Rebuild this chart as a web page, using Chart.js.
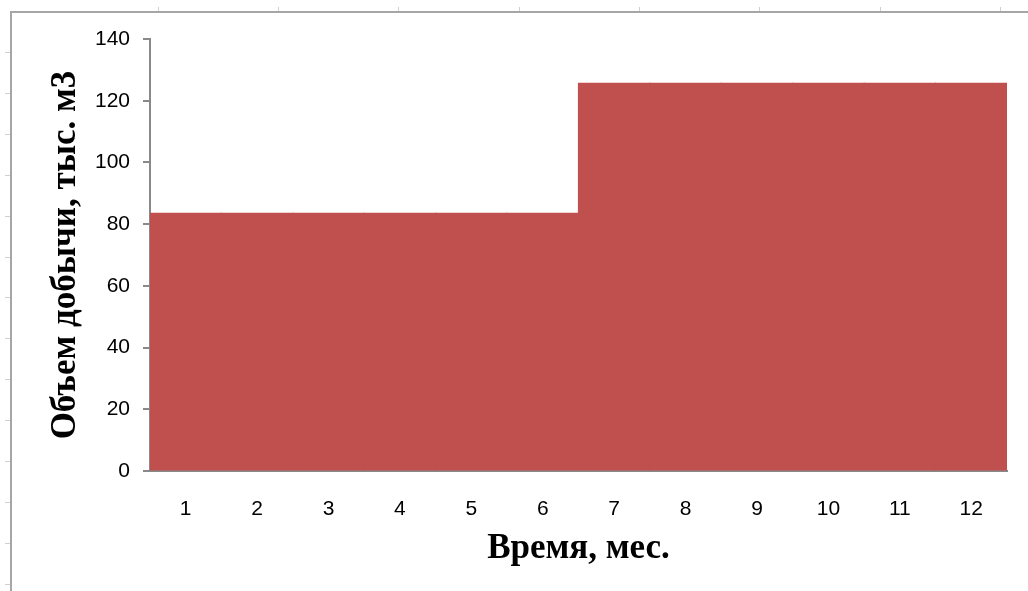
<!DOCTYPE html>
<html>
<head>
<meta charset="utf-8">
<script src="https://cdn.jsdelivr.net/npm/chart.js@4/dist/chart.umd.min.js"></script>
<style>
html,body{margin:0;padding:0;background:#fff;}
#wrap{position:relative;width:1028px;height:591px;}
</style>
</head>
<body>
<div id="wrap"><canvas id="c" width="1028" height="591"></canvas></div>
<script>
const months = ['1','2','3','4','5','6','7','8','9','10','11','12'];
const volume = [83.5,83.5,83.5,83.5,83.5,83.5,125.6,125.6,125.6,125.6,125.6,125.6];
const yTitle = 'Объем добычи, тыс. м3';
const xTitle = 'Время, мес.';
const yMin = 0, yMax = 140, yStep = 20;

const frame = {
  id: 'frame',
  beforeDraw(chart) {
    const ctx = chart.ctx;
    ctx.save();
    ctx.fillStyle = '#fff';
    ctx.fillRect(0, 0, chart.width, chart.height);
    ctx.strokeStyle = '#a6a6a6';
    ctx.lineWidth = 2;
    ctx.beginPath();
    ctx.moveTo(11, chart.height);
    ctx.lineTo(11, 12);
    ctx.lineTo(chart.width, 12);
    ctx.stroke();
    ctx.strokeStyle = '#d0d0d0';
    ctx.lineWidth = 1;
    ctx.beginPath();
    for (let x = 157.5; x < chart.width; x += 120.4) { ctx.moveTo(Math.round(x)+0.5, 7); ctx.lineTo(Math.round(x)+0.5, 11); }
    for (let y = 52; y < chart.height; y += 40.9) { ctx.moveTo(5, Math.round(y)+0.5); ctx.lineTo(10, Math.round(y)+0.5); }
    ctx.stroke();
    ctx.restore();
  }
};

new Chart(document.getElementById('c'), {
  type: 'bar',
  data: {
    labels: months,
    datasets: [{
      data: volume,
      backgroundColor: '#C0504D',
      borderWidth: 0,
      inflateAmount: 0.6,
      categoryPercentage: 1.0,
      barPercentage: 1.0
    }]
  },
  options: {
    responsive: false,
    animation: false,
    devicePixelRatio: 1,
    layout: { padding: { left: 0, top: 39, right: 21, bottom: 0 } },
    plugins: { legend: { display: false }, tooltip: { enabled: false } },
    scales: {
      x: {
        afterFit(s) { s.height = 120; },
        grid: { display: false, drawTicks: false },
        border: { display: true, color: '#898989', width: 2 },
        ticks: { color: '#000', padding: 26, font: { family: 'Liberation Sans', size: 21 } },
        title: { display: true, text: xTitle, color: '#000', padding: { top: 0, bottom: 21 },
                 font: { family: 'Liberation Serif', size: 35, weight: 'bold' } }
      },
      y: {
        min: yMin, max: yMax,
        afterFit(s) { s.width = 150; },
        grid: { drawOnChartArea: false, drawTicks: true, tickLength: 7, color: '#898989', lineWidth: 2 },
        border: { display: true, color: '#898989', width: 2 },
        ticks: { stepSize: yStep, color: '#000', padding: 13, font: { family: 'Liberation Sans', size: 21 } },
        title: { display: true, text: yTitle, color: '#000', padding: { top: 45, bottom: 0 },
                 font: { family: 'Liberation Serif', size: 35, weight: 'bold' } }
      }
    }
  },
  plugins: [frame]
});
</script>
</body>
</html>
